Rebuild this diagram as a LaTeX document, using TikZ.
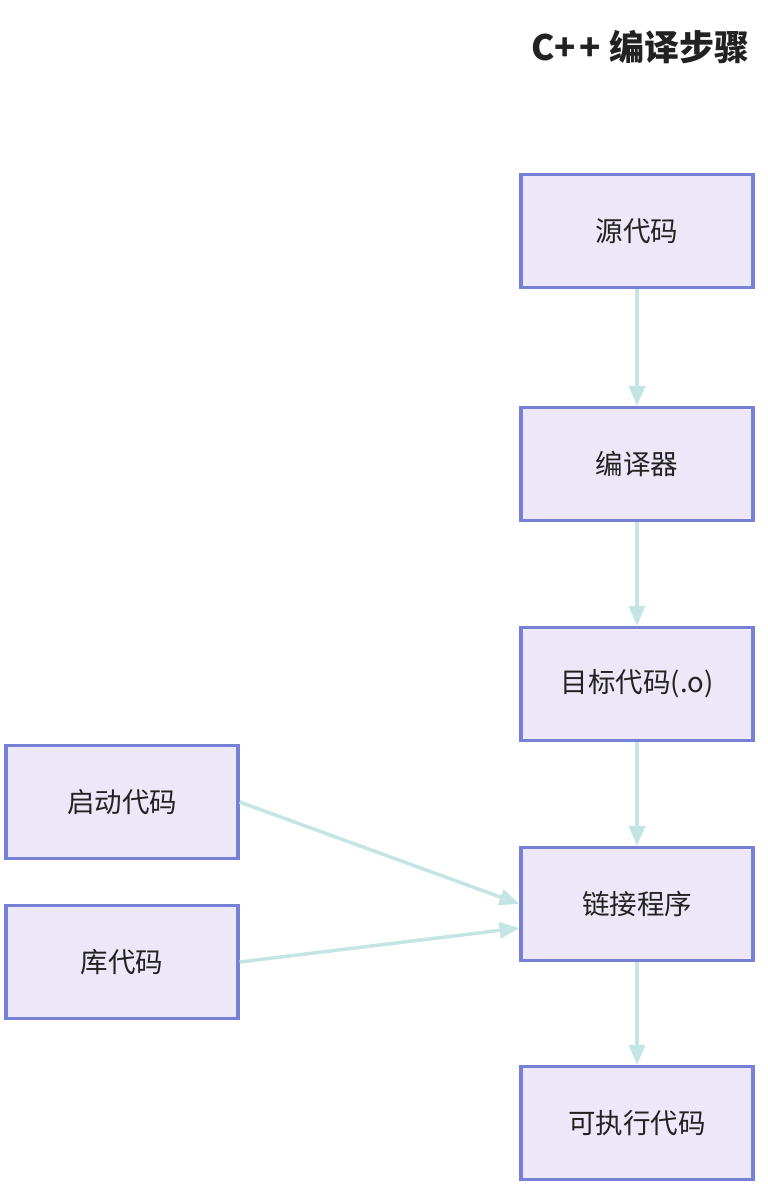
\documentclass[tikz,border=0pt]{standalone}
\usepackage{fontspec}
\newfontfamily\cjk{Noto Sans CJK SC}
\usetikzlibrary{arrows.meta}
\definecolor{boxfill}{HTML}{ECE8F8}
\definecolor{boxline}{HTML}{7580D6}
\definecolor{edge}{HTML}{C5E4E4}
\definecolor{titlecol}{HTML}{222222}
\tikzset{
  stepbox/.style={draw=boxline, fill=boxfill, line width=3.2pt, minimum width=232pt, minimum height=113pt, inner sep=0pt, font=\cjk\fontsize{27.5pt}{32pt}\selectfont, text=titlecol},
  flow/.style={draw=edge, line width=3.5pt, -{Triangle[length=20pt,width=16pt]}}
}
\begin{document}
\begin{tikzpicture}[x=1pt,y=-1pt]
\useasboundingbox (0,0) rectangle (768,1189);
\node[anchor=east, font=\cjk\bfseries\fontsize{35pt}{40pt}\selectfont, text=titlecol] (title) at (753,47) {C+\kern3pt+\hspace{9pt}编译步骤};
\node[stepbox] (src) at (637,231) {源代码};
\node[stepbox] (cc) at (637,464) {编译器};
\node[stepbox] (obj) at (637,684) {目标代码(.o)};
\node[stepbox] (ld) at (637,904) {链接程序};
\node[stepbox] (exe) at (637,1123) {可执行代码};
\node[stepbox] (crt) at (122,802) {启动代码};
\node[stepbox] (lib) at (122,962) {库代码};
\draw[flow] (src) -- (cc);
\draw[flow] (cc) -- (obj);
\draw[flow] (obj) -- (ld);
\draw[flow] (ld) -- (exe);
\draw[flow] (crt.east) -- ([yshift=0pt]ld.west);
\draw[flow] (lib.east) -- ([yshift=-24pt]ld.west);
\end{tikzpicture}
\end{document}
